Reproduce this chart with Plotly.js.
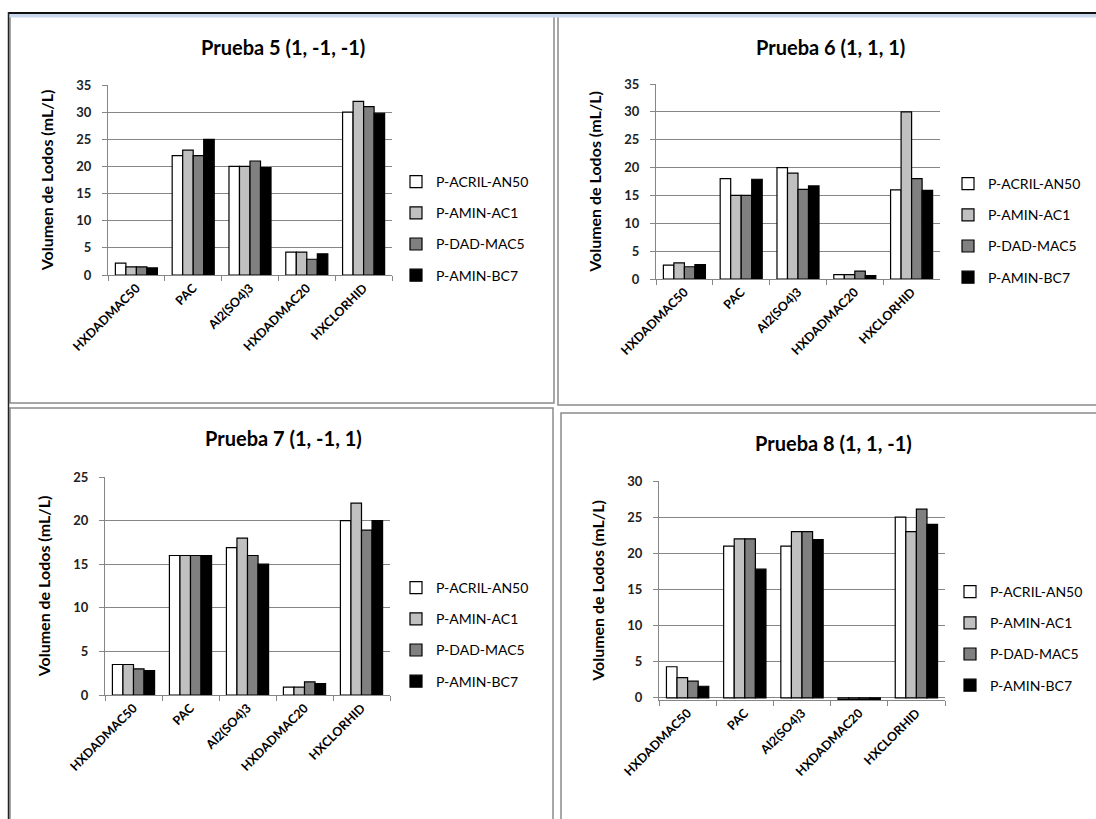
<!DOCTYPE html>
<html>
<head>
<meta charset="utf-8">
<script src="https://cdn.plot.ly/plotly-3.0.1.min.js"></script>
<style>html,body{margin:0;padding:0;background:#fff;}#chart{width:1096px;height:819px;}</style>
</head>
<body>
<div id="chart"></div>
<script>
// ---- DATA ----
const categories = ["HXDADMAC50", "PAC", "Al2(SO4)3", "HXDADMAC20", "HXCLORHID"];
const seriesNames = ["P-ACRIL-AN50", "P-AMIN-AC1", "P-DAD-MAC5", "P-AMIN-BC7"];
const panelTitles = ["Prueba 5 (1, -1, -1)", "Prueba 6 (1, 1, 1)", "Prueba 7 (1, -1, 1)", "Prueba 8 (1, 1, -1)"];
const yAxisTitle = "Volumen de Lodos (mL/L)";

const p5_acril = [2.2, 22, 20, 4.2, 30];
const p5_ac1   = [1.5, 23, 20, 4.2, 32];
const p5_mac5  = [1.5, 22, 21, 2.9, 31];
const p5_bc7   = [1.3, 25, 19.8, 3.9, 29.8];

const p6_acril = [2.5, 18, 20, 0.8, 16];
const p6_ac1   = [2.9, 15, 19, 0.8, 30];
const p6_mac5  = [2.2, 15, 16.1, 1.4, 18];
const p6_bc7   = [2.6, 17.9, 16.7, 0.6, 15.9];

const p7_acril = [3.5, 16, 16.9, 0.9, 20];
const p7_ac1   = [3.5, 16, 18, 0.9, 22];
const p7_mac5  = [3.0, 16, 16, 1.5, 18.9];
const p7_bc7   = [2.8, 16, 15, 1.3, 20];

const p8_acril = [4.3, 21, 21, -0.2, 25];
const p8_ac1   = [2.8, 22, 23, -0.2, 23];
const p8_mac5  = [2.3, 22, 23, -0.2, 26.1];
const p8_bc7   = [1.6, 17.8, 21.9, -0.2, 24];

const panelData = [
  [p5_acril, p5_ac1, p5_mac5, p5_bc7],
  [p6_acril, p6_ac1, p6_mac5, p6_bc7],
  [p7_acril, p7_ac1, p7_mac5, p7_bc7],
  [p8_acril, p8_ac1, p8_mac5, p8_bc7]
];
const yRanges = [[0, 35], [0, 35], [0, 25], [-0.3, 30]];
const yDtick = [5, 5, 5, 5];

// ---- STYLE / LAYOUT ----
const W = 1096, H = 819;
const X = px => px / W;
const Y = py => 1 - py / H;
const seriesColors = ["#ffffff", "#c0c0c0", "#808080", "#000000"];
const FONT = "Lato, 'Liberation Sans Narrow', 'Liberation Sans', sans-serif";

// plot areas in pixels [x0, x1, yTop, yBottom]
const plotBoxes = [
  [108, 392, 85, 275],
  [656, 940, 84, 279],
  [105, 390, 477, 695],
  [659, 945, 481, 700]
];
const legendPos = [[396, 166], [948, 168], [396, 572], [950, 576]];
const titlePos = [[283, 47], [830, 47], [283, 438], [833, 443]];

const traces = [];
const layout = {
  width: W, height: H,
  margin: {l: 0, r: 0, t: 0, b: 0},
  paper_bgcolor: "#ffffff", plot_bgcolor: "#ffffff",
  barmode: "group", bargap: 0.26, bargroupgap: 0,
  font: {family: FONT, color: "#000"},
  showlegend: true,
  annotations: [], shapes: []
};

panelData.forEach((series, p) => {
  const n = p + 1;
  const xa = n === 1 ? "x" : "x" + n;
  const ya = n === 1 ? "y" : "y" + n;
  const lg = n === 1 ? "legend" : "legend" + n;
  series.forEach((vals, s) => {
    traces.push({
      type: "bar", x: categories, y: vals, name: seriesNames[s],
      xaxis: xa, yaxis: ya, legend: lg, legendgroup: "g" + n + "_" + s,
      marker: {color: seriesColors[s], line: {color: "#000", width: 1.2}},
      hoverinfo: "x+y+name"
    });
  });
  const b = plotBoxes[p];
  const xKey = n === 1 ? "xaxis" : "xaxis" + n;
  const yKey = n === 1 ? "yaxis" : "yaxis" + n;
  layout[xKey] = {
    domain: [X(b[0]), X(b[1])], anchor: ya, type: "category",
    tickangle: -45, tickson: "boundaries", ticks: "outside", ticklen: 5,
    tickcolor: "#868686", showline: true, linecolor: "#868686", linewidth: 1,
    showgrid: false, zeroline: false, fixedrange: true,
    tickfont: {family: FONT, size: 12.5, color: "#000", weight: "bold"}
  };
  layout[yKey] = {
    domain: [Y(b[3]), Y(b[2])], anchor: xa, range: yRanges[p], dtick: yDtick[p], tick0: 0,
    showgrid: true, gridcolor: "#868686", gridwidth: 1,
    showline: true, linecolor: "#868686", linewidth: 1,
    ticks: "outside", ticklen: 5, tickcolor: "#868686",
    zeroline: p === 3, zerolinecolor: "#868686", zerolinewidth: 1, fixedrange: true,
    ticklabelstandoff: 8,
    tickfont: {family: FONT, size: 13, color: "#222", weight: "bold"},
    title: {text: yAxisTitle, font: {family: FONT, size: 16, color: "#000", weight: "bold"}, standoff: 18}
  };
  layout[lg] = {
    x: X(legendPos[p][0]), y: Y(legendPos[p][1]), xanchor: "left", yanchor: "top",
    bgcolor: "rgba(0,0,0,0)", borderwidth: 0, tracegroupgap: 10,
    itemwidth: 30, font: {family: FONT, size: 14, color: "#000"}
  };
  layout.annotations.push({
    text: panelTitles[p], xref: "paper", yref: "paper",
    x: X(titlePos[p][0]), y: Y(titlePos[p][1]), xanchor: "center", yanchor: "middle",
    showarrow: false, font: {family: FONT, size: 20, color: "#000", weight: "bold"}
  });
});

// panel frames
const frames = [[10, 554, 16, 403], [558, 1100, 16, 405], [10, 553, 408, 830], [561, 1100, 413, 830]];
frames.forEach(f => {
  layout.shapes.push({type: "rect", xref: "paper", yref: "paper",
    x0: X(f[0]), x1: X(f[1]), y0: Y(f[3]), y1: Y(f[2]),
    line: {color: "#8a8a8a", width: 1.5}, fillcolor: "rgba(0,0,0,0)", layer: "below"});
});
// header band
layout.shapes.push({type: "rect", xref: "paper", yref: "paper", x0: X(9), x1: X(1100), y0: Y(17.5), y1: Y(14),
  line: {width: 0}, fillcolor: "#c9d8ec", layer: "above"});
layout.shapes.push({type: "line", xref: "paper", yref: "paper", x0: X(8), x1: X(1100), y0: Y(13), y1: Y(13),
  line: {color: "#111", width: 2}});
layout.shapes.push({type: "line", xref: "paper", yref: "paper", x0: X(8.5), x1: X(8.5), y0: Y(12), y1: Y(830),
  line: {color: "#222", width: 1.5}});

Plotly.newPlot("chart", traces, layout, {staticPlot: true, displayModeBar: false});
</script>
</body>
</html>
